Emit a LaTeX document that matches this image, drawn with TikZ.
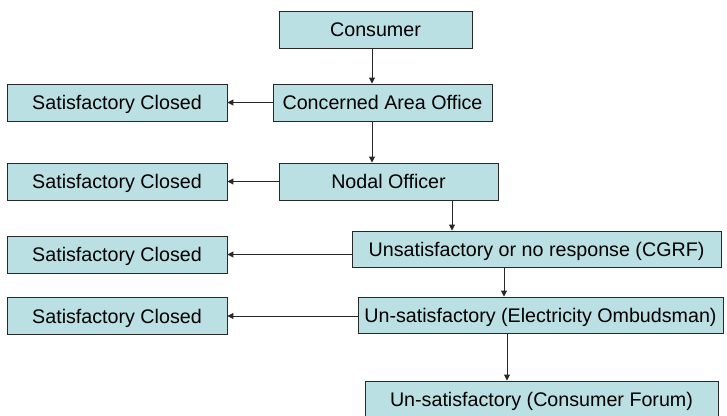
\documentclass[tikz,border=0pt]{standalone}
\usepackage{fontspec}
\setmainfont{Liberation Sans}
\usepackage{tikz}
\usetikzlibrary{
  arrows.meta,
  positioning,
  calc
}
\definecolor{ppfill}{RGB}{187,224,227}
\definecolor{ppline}{RGB}{40,40,40}

\begin{document}
\begin{tikzpicture}[
  stage/.style={
    rectangle,
    minimum height=1.11cm, inner sep=0pt,
    text height=16pt, text depth=4pt,
    draw=ppline, fill=ppfill, line width=0.8pt,
    font=\fontsize{16.8}{20}\selectfont
  },
  closed/.style={stage, minimum width=6.6cm},
  arrow/.style={-{Triangle[length=5pt,width=5pt]}, line width=0.8pt, ppline}
]
  \useasboundingbox (0,0) rectangle (21.81,-12.48);

  \node[stage, minimum width=5.79cm] (cons) at (11.265,-0.885) {Consumer};
  \node[stage, minimum width=6.57cm] (area) at (11.475,-3.075) {Concerned Area Office};
  \node[stage, minimum width=6.57cm] (nodal) at (11.655,-5.445) {Nodal Officer};
  \node[stage, minimum width=11.07cm, minimum height=1.08cm] (cgrf) at (16.095,-7.47) {Unsatisfactory or no response (CGRF)};
  \node[stage, minimum width=10.95cm, minimum height=1.08cm] (omb) at (16.215,-9.45) {Un-satisfactory (Electricity Ombudsman)};
  \node[stage, minimum width=10.59cm, minimum height=1.08cm] (forum) at (16.245,-11.97) {Un-satisfactory (Consumer Forum)};

  \node[closed] (sat1) at (3.51,-3.075) {Satisfactory Closed};
  \node[closed] (sat2) at (3.51,-5.445) {Satisfactory Closed};
  \node[closed] (sat3) at (3.51,-7.635) {Satisfactory Closed};
  \node[closed] (sat4) at (3.51,-9.48) {Satisfactory Closed};

  % x positions of the downward links
  \coordinate (d1) at (11.16,0);
  \coordinate (d2) at (13.56,0);
  \coordinate (d3) at (15.12,0);
  \coordinate (d4) at (15.21,0);

  \draw[arrow] (d1 |- cons.south) -- (d1 |- area.north);
  \draw[arrow] (d1 |- area.south) -- (d1 |- nodal.north);
  \draw[arrow] (d2 |- nodal.south) -- (d2 |- cgrf.north);
  \draw[arrow] (d3 |- cgrf.south) -- (d3 |- omb.north);
  \draw[arrow] (d4 |- omb.south) -- (d4 |- forum.north);

  \draw[arrow] (area.west |- sat1.east) -- (sat1.east);
  \draw[arrow] (nodal.west |- sat2.east) -- (sat2.east);
  \draw[arrow] (cgrf.west |- sat3.east) -- (sat3.east);
  \draw[arrow] (omb.west |- sat4.east) -- (sat4.east);
\end{tikzpicture}
\end{document}
